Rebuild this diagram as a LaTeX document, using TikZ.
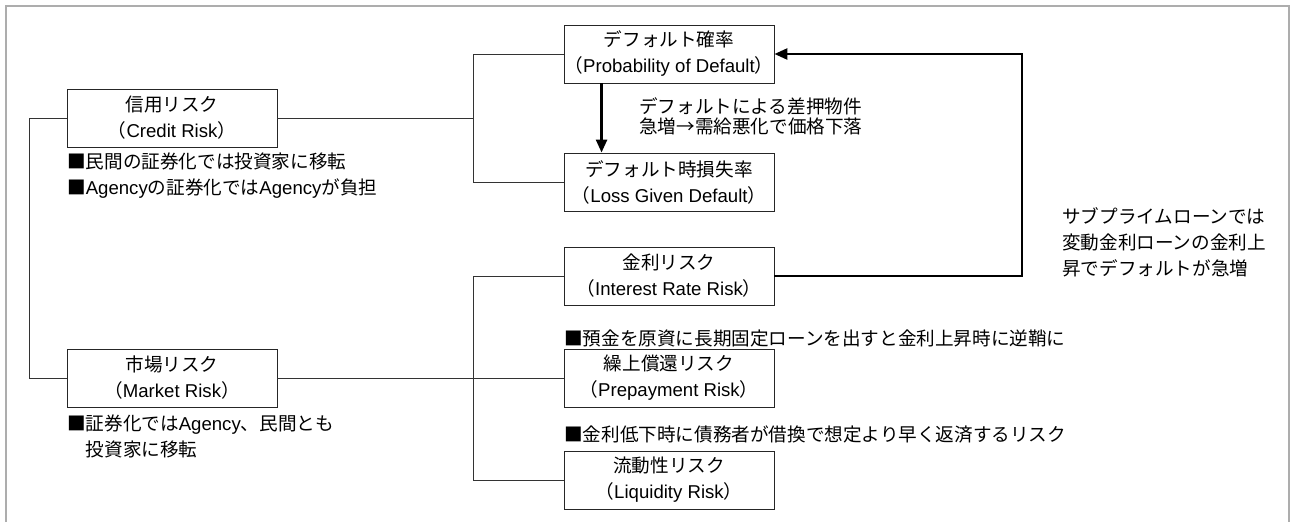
\documentclass[tikz,border=0pt]{standalone}
\usepackage{fontspec}
\setmainfont{Noto Sans CJK JP}
\newfontfamily\lat{Liberation Sans}
\usetikzlibrary{arrows.meta}
\begin{document}
\begin{tikzpicture}[x=1pt,y=-1pt,
  every node/.style={font=\fontsize{18.6}{26}\selectfont},
  riskbox/.style={draw=black!85, line width=0.9pt, fill=white, minimum width=210pt, minimum height=58pt, align=center, inner sep=0pt},
  note/.style={align=left, inner sep=0pt, anchor=west},
  link/.style={draw=black!80, line width=0.8pt},
  strong/.style={draw=black, line width=2.6pt, -{Triangle[length=13pt,width=11pt]}},
  frameline/.style={draw=black!32, line width=1.5pt}]
\useasboundingbox (0,0) rectangle (1292,522);
% frame
\draw[frameline] (6,522) -- (6,6) -- (1289,6) -- (1289,522);
% boxes
\node[riskbox] (credit) at (172,118) {信用リスク\\（{\lat Credit Risk}）};
\node[riskbox] (market) at (172,378) {市場リスク\\（{\lat Market Risk}）};
\node[riskbox] (pd) at (669,54) {デフォルト確率\\（{\lat Probability of Default}）};
\node[riskbox] (lgd) at (669,182) {デフォルト時損失率\\（{\lat Loss Given Default}）};
\node[riskbox] (ir) at (669,276) {金利リスク\\（{\lat Interest Rate Risk}）};
\node[riskbox] (pre) at (669,378) {繰上償還リスク\\（{\lat Prepayment Risk}）};
\node[riskbox] (liq) at (669,480) {流動性リスク\\（{\lat Liquidity Risk}）};
% helper coordinates
\coordinate (lx) at (29,0);
\coordinate (bx) at (473,0);
\coordinate (fx) at (1022,0);
% tree connectors
\draw[link] (credit.west) -- (credit.west -| lx) |- (market.west);
\draw[link] (credit.east) -- (credit.east -| bx);
\draw[link] (pd.west) -- (pd.west -| bx) |- (lgd.west);
\draw[link] (market.east) -- (market.east -| bx);
\draw[link] (ir.west) -- (ir.west -| bx) |- (liq.west);
\draw[link] (pre.west) -- (pre.west -| bx);
% thick arrows
\draw[strong] ([xshift=38pt]pd.south west) -- ([xshift=38pt]lgd.north west);
\draw[strong] (ir.east) -- (ir.east -| fx) |- (pd.east);
% notes
\node[note] (n1) at (67,176) {■民間の証券化では投資家に移転\\■{\lat Agency}の証券化では{\lat Agency}が負担};
\node[note] (n2) at (67,436) {■証券化では{\lat Agency}、民間とも\\\hspace*{1em}投資家に移転};
\node[note] (n3) at (564,338.5) {■預金を原資に長期固定ローンを出すと金利上昇時に逆鞘に};
\node[note] (n4) at (564,434) {■金利低下時に債務者が借換で想定より早く返済するリスク};
\node[note, font=\fontsize{18.6}{20.5}\selectfont] (n5) at (639,116.5) {デフォルトによる差押物件\\急増→需給悪化で価格下落};
\node[note] (n6) at (1062,242.5) {サブプライムローンでは\\変動金利ローンの金利上\\昇でデフォルトが急増};
\end{tikzpicture}
\end{document}
